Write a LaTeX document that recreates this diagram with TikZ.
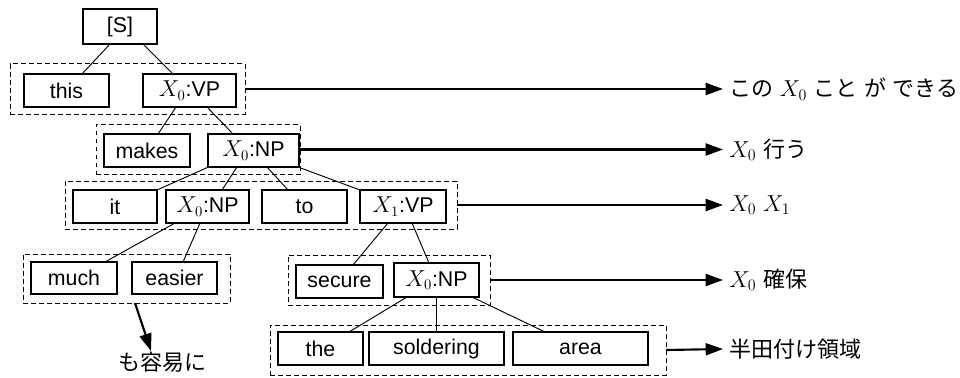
\documentclass[tikz,border=0pt]{standalone}
\usepackage[no-math]{fontspec}
\setmainfont{Liberation Sans}
\newfontfamily\jpfont{Noto Sans CJK JP}
\usetikzlibrary{calc,arrows.meta}
\tikzset{
  wbox/.style n args={2}{draw, line width=0.8pt, inner sep=0pt, outer sep=0pt,
     minimum width={#1*0.75pt}, minimum height={#2*0.75pt},
     font=\fontsize{16}{19}\selectfont},
  grp/.style n args={2}{draw, dash pattern=on 3.5pt off 2.5pt, line width=0.75pt,
     inner sep=0pt, outer sep=0pt, minimum width={#1*0.75pt}, minimum height={#2*0.75pt}},
  tree/.style={line width=0.7pt},
  conv/.style={line width=1.6pt, -{Triangle[length=13pt,width=9pt]}},
  jtext/.style={anchor=west, inner sep=0pt, font=\fontsize{16.5}{19}\selectfont\jpfont}
}
\newcommand{\jsp}{\hspace{0.3em}}
\begin{document}
\begin{tikzpicture}[x=0.75pt,y=-0.75pt]
\useasboundingbox (0,0) rectangle (960,378);
% groups
\node[grp={235}{50}] (g1) at (127.5,89) {};
\node[grp={204}{50}] (g2) at (198,149.5) {};
\node[grp={392}{48}] (g3) at (261,205) {};
\node[grp={207}{49}] (g4) at (126.5,278.5) {};
\node[grp={202}{50}] (g5) at (389,280) {};
\node[grp={396}{50}] (g6) at (468,350) {};
% words
\node[wbox={74}{35}] (S) at (120,26.5) {[S]};
\node[wbox={85}{33}] (this) at (66.5,90.5) {this};
\node[wbox={93}{33}] (vp0) at (189.5,90.5) {$X_0$:VP};
\node[wbox={86}{33}] (makes) at (147,150.5) {makes};
\node[wbox={91}{33}] (np1) at (253.5,150.5) {$X_0$:NP};
\node[wbox={84}{33}] (it) at (115,206.5) {it};
\node[wbox={83}{33}] (np2) at (207.5,206.5) {$X_0$:NP};
\node[wbox={85}{33}] (to) at (304.5,206.5) {to};
\node[wbox={86}{33}] (vp1) at (403,206.5) {$X_1$:VP};
\node[wbox={86}{32}] (much) at (74,278) {much};
\node[wbox={85}{32}] (easier) at (174.5,278) {easier};
\node[wbox={87}{33}] (secure) at (339.5,281.5) {secure};
\node[wbox={85}{34}] (np3) at (436.5,280) {$X_0$:NP};
\node[wbox={85}{33}] (the) at (320.5,348.5) {the};
\node[wbox={135}{33}] (sold) at (436.5,348.5) {soldering};
\node[wbox={135}{33}] (area) at (580.5,348.5) {area};
% tree edges
\draw[tree] ($(S.south)+(-10,0)$) -- ($(this.north)+(15.5,0)$);
\draw[tree] ($(S.south)+(23,0)$) -- ($(vp0.north)+(-16.5,0)$);
\draw[tree] ($(vp0.south)+(-13.5,0)$) -- ($(makes.north)+(11,0)$);
\draw[tree] ($(vp0.south)+(17.5,0)$) -- ($(np1.north)+(-20.5,0)$);
\draw[tree] ($(np1.south)+(-45,0)$) -- ($(it.north)+(42,0)$);
\draw[tree] ($(np1.south)+(-16.5,0)$) -- ($(np2.north)+(14.5,0)$);
\draw[tree] ($(np1.south)+(13.5,0)$) -- ($(to.north)+(-16.5,0)$);
\draw[tree] ($(np1.south)+(44.5,0)$) -- (vp1.north west);
\draw[tree] ($(np2.south)+(-32.5,0)$) -- ($(much.north)+(31,0)$);
\draw[tree] ($(np2.south)+(-7.5,0)$) -- ($(easier.north)+(8.5,0)$);
\draw[tree] ($(vp1.south)+(-15,0)$) -- ($(secure.north)+(13.5,0)$);
\draw[tree] ($(vp1.south)+(9,0)$) -- ($(np3.north)+(-7.5,0)$);
\draw[tree] ($(np3.south)+(-29.5,0)$) -- ($(the.north)+(28.5,0)$);
\draw[tree] (np3.south) -- (sold.north);
\draw[tree] ($(np3.south)+(35.5,0)$) -- ($(area.north)+(-35.5,0)$);
% translations
\node[jtext] (t1) at (729,89) {この\jsp$X_0$\jsp こと\jsp が\jsp できる};
\node[jtext] (t2) at (729,149.5) {$X_0$\jsp 行う};
\node[jtext] (t3) at (729,205) {$X_0$\jsp$X_1$};
\node[jtext] (t5) at (729,280) {$X_0$\jsp 確保};
\node[jtext] (t6) at (729,349) {半田付け領域};
\node[font=\fontsize{16.5}{19}\selectfont\jpfont, anchor=north, inner sep=0pt] (t4) at (162,352) {も容易に};
\draw[conv] (g1.east) -- ($(t1.west)+(-6,0)$);
\draw[conv] (g2.east) -- ($(t2.west)+(-6,0)$);
\draw[conv] (g3.east) -- ($(t3.west)+(-6,0)$);
\draw[conv] (g5.east) -- ($(t5.west)+(-6,0)$);
\draw[conv] (g6.east) -- ($(t6.west)+(-6,0)$);
\draw[conv] ($(g4.south)+(8.5,0)$) -- ($(t4.north)+(-11,-1)$);
\end{tikzpicture}
\end{document}
